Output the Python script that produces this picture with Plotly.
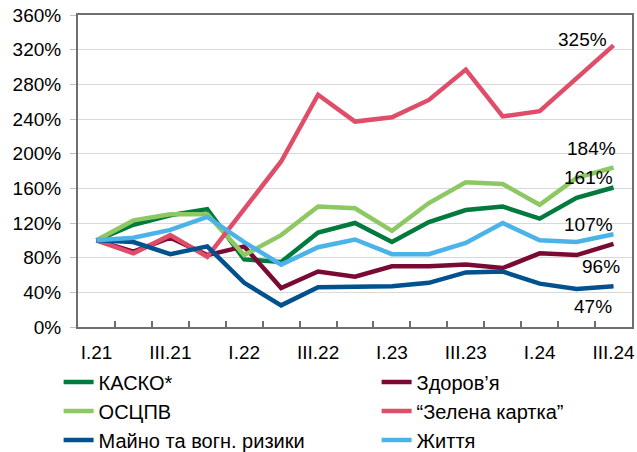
import plotly.graph_objects as go

quarters = ["I.21", "II.21", "III.21", "IV.21", "I.22", "II.22", "III.22", "IV.22",
            "I.23", "II.23", "III.23", "IV.23", "I.24", "II.24", "III.24"]
tick_labels = ["I.21", "III.21", "I.22", "III.22", "I.23", "III.23", "I.24", "III.24"]

kasko = [100, 118, 129, 136, 78, 75, 109, 120, 98, 121, 135, 139, 125, 149, 161]
zdorovia = [100, 87, 103, 83, 93, 45, 64, 58, 70, 70, 72, 68, 85, 83, 96]
osczpv = [100, 123, 130, 130, 83, 106, 139, 137, 111, 143, 167, 165, 141, 172, 184]
green_card = [100, 85, 106, 81, 136, 191, 268, 237, 242, 262, 297, 243, 249, 287, 325]
mayno = [100, 98, 84, 93, 51, 25, 46, 46, 47, 51, 63, 64, 50, 44, 47]
zhyttia = [100, 103, 112, 127, 98, 72, 92, 101, 84, 84, 97, 120, 100, 98, 107]

series_names = ["КАСКО*", "Здоров’я", "ОСЦПВ", "“Зелена картка”", "Майно та вогн. ризики", "Життя"]
series_values = [kasko, zdorovia, osczpv, green_card, mayno, zhyttia]
colors = ["#007A3D", "#7A0A33", "#8DC862", "#E04D69", "#00528E", "#4BB3E8"]

x_idx = list(range(len(quarters)))

fig = go.Figure()
for name, vals, col in zip(series_names, series_values, colors):
    fig.add_trace(go.Scatter(x=x_idx, y=vals, name=name, mode="lines",
                             line=dict(color=col, width=4.5)))

# end-value labels
label_pos = [  # (series index, x, y)
    (3, 13.15, 332),
    (2, 13.39, 206),
    (0, 13.31, 172),
    (5, 13.31, 118),
    (1, 13.66, 70),
    (4, 13.45, 24),
]
for si, lx, ly in label_pos:
    fig.add_annotation(x=lx, y=ly, text=f"{series_values[si][-1]}%", showarrow=False,
                       font=dict(size=19, color="#000000"), xanchor="center", yanchor="middle")

fig.update_layout(
    width=637, height=452,
    margin=dict(l=78, r=5, t=15, b=125, autoexpand=False),
    paper_bgcolor="white", plot_bgcolor="white",
    font=dict(family="Liberation Sans, Arial, sans-serif", size=19, color="#000000"),
    showlegend=True,
    legend=dict(orientation="h", x=-0.035, xanchor="left", y=-0.114, yanchor="top",
                entrywidth=273, entrywidthmode="pixels", font=dict(size=20),
                bgcolor="rgba(0,0,0,0)", traceorder="normal"),
)
fig.update_xaxes(
    range=[-0.5, len(quarters) - 0.5],
    tickvals=[quarters.index(t) for t in tick_labels], ticktext=tick_labels,
    ticks="", showgrid=False, zeroline=False,
    showline=True, linecolor="#6E6E6E", linewidth=2, mirror=True,
    ticklabelstandoff=7,
    minor=dict(tickvals=[i + 0.5 for i in range(len(quarters) - 1)], ticks="inside",
               ticklen=6, tickcolor="#6E6E6E", tickwidth=1.5, showgrid=False),
)
fig.update_yaxes(
    range=[0, 360], dtick=40, ticksuffix="%",
    showgrid=True, gridcolor="#D9D9D9", gridwidth=1, zeroline=False,
    showline=True, linecolor="#6E6E6E", linewidth=2, mirror=True,
    ticks="outside", ticklen=6, tickcolor="#BFBFBF", tickwidth=1,
    ticklabelstandoff=5,
)

fig.write_html("out.html", config={"displayModeBar": False},
               post_script="document.body.style.margin='0px';")
